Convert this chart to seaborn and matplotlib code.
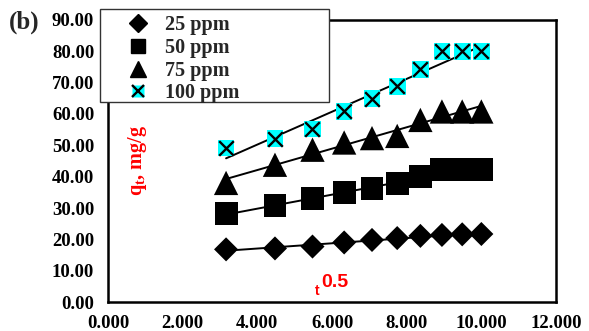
import numpy as np
import pandas as pd
import seaborn as sns
import matplotlib
matplotlib.use("Agg")
import matplotlib.pyplot as plt
from matplotlib.patches import Rectangle
from matplotlib.lines import Line2D

# square root of contact time (min^0.5)
t_sqrt = [3.162, 4.472, 5.477, 6.325, 7.071, 7.746, 8.367, 8.944, 9.487, 10.000]

# adsorbed amount q_t (mg/g) for each initial concentration
q_25 = [16.8, 17.1, 17.7, 19.0, 19.8, 20.4, 21.1, 21.4, 21.6, 21.7]
q_50 = [28.1, 30.8, 32.9, 34.9, 36.3, 37.7, 40.0, 42.2, 42.2, 42.2]
q_75 = [38.0, 43.8, 48.6, 50.9, 52.3, 53.0, 58.1, 60.8, 60.8, 60.8]
q_100 = [49.1, 52.1, 55.2, 60.8, 64.9, 68.8, 74.3, 80.0, 80.0, 80.0]

series_labels = ["25 ppm", "50 ppm", "75 ppm", "100 ppm"]
x_ticks = [0, 2, 4, 6, 8, 10, 12]
y_ticks = [0, 10, 20, 30, 40, 50, 60, 70, 80, 90]

sns.set_theme(style="white")
plt.rcParams["font.family"] = ["Liberation Serif", "DejaVu Serif"]
plt.rcParams["font.weight"] = "bold"

fig = plt.figure(figsize=(5.89, 3.31), dpi=100)
ax = fig.add_axes([0.1834, 0.0876, 0.7606, 0.852])

df = pd.DataFrame({
    "t": t_sqrt * 4,
    "q": q_25 + q_50 + q_75 + q_100,
    "conc": sum([[lab] * len(t_sqrt) for lab in series_labels], []),
})

# linear fits (intraparticle diffusion)
xs = np.array([t_sqrt[0], t_sqrt[-1]])
for lab in series_labels:
    sub = df[df["conc"] == lab]
    k, c = np.polyfit(sub["t"], sub["q"], 1)
    sns.lineplot(x=xs, y=k * xs + c, color="black", lw=1.4, ax=ax, zorder=2)

marker_styles = {
    "25 ppm": dict(marker="D", s=15.5 ** 2 / 2 * 1.25, color="black"),
    "50 ppm": dict(marker="s", s=16.5 ** 2, color="black"),
    "75 ppm": dict(marker="^", s=17.5 ** 2, color="black"),
}
for lab, st in marker_styles.items():
    sub = df[df["conc"] == lab]
    sns.scatterplot(x=sub["t"], y=sub["q"], marker=st["marker"], s=st["s"],
                    color=st["color"], edgecolor="none", ax=ax, zorder=3)

sub = df[df["conc"] == "100 ppm"]
sns.scatterplot(x=sub["t"], y=sub["q"], marker="s", s=12 ** 2,
                color="#00FFFF", edgecolor="none", ax=ax, zorder=3)
sns.scatterplot(x=sub["t"], y=sub["q"], marker="x", s=10.5 ** 2,
                color="black", linewidth=1.7, ax=ax, zorder=4)

ax.set_xlim(0, 12)
ax.set_ylim(0, 90)
ax.set_xticks(x_ticks)
ax.set_yticks(y_ticks)
ax.set_xticklabels([f"{v:.3f}" for v in x_ticks])
ax.set_yticklabels([f"{v:.2f}" for v in y_ticks])
ax.set_xlabel("")
ax.set_ylabel("")
ax.tick_params(axis="both", which="both", direction="out", length=4, width=1,
               colors="black", labelsize=13.5, pad=6)
ax.tick_params(axis="x", pad=5)
for lbl in ax.get_xticklabels() + ax.get_yticklabels():
    lbl.set_fontweight("bold")
for sp in ax.spines.values():
    sp.set_visible(True)
    sp.set_color("black")
    sp.set_linewidth(1.8)

# axis titles drawn inside the frame
ax.text(0.066, 0.50, r"q$_\mathregular{t}$, mg/g", transform=ax.transAxes,
        rotation=90, color="red", fontsize=14.5, fontweight="bold",
        ha="center", va="center")
ax.text(0.466, 0.038, "t", transform=ax.transAxes, color="red",
        fontsize=10, fontweight="bold", family="Liberation Sans",
        ha="center", va="center")
ax.text(0.506, 0.070, "0.5", transform=ax.transAxes, color="red",
        fontsize=14, fontweight="bold", family="Liberation Sans",
        ha="center", va="center")

fig.text(9 / 589, 1 - 22 / 331, "(b)", fontsize=18, fontweight="bold",
         ha="left", va="center")

# legend box covering the upper-left corner of the frame
box = Rectangle((100 / 589, 1 - 102 / 331), 229 / 589, 93 / 331,
                transform=fig.transFigure, facecolor="white",
                edgecolor="#333333", linewidth=1.0, zorder=1)
fig.patches.append(box)

h25 = Line2D([], [], marker="D", color="black", ls="none", ms=9)
h50 = Line2D([], [], marker="s", color="black", ls="none", ms=10.5)
h75 = Line2D([], [], marker="^", color="black", ls="none", ms=11)
h100a = Line2D([], [], marker="s", color="#00FFFF", mec="none", ls="none", ms=9)
h100b = Line2D([], [], marker="x", color="black", ls="none", ms=8, mew=1.7)
fig.legend([h25, h50, h75, (h100a, h100b)], series_labels,
           loc="upper left", bbox_to_anchor=(126 / 589, 1 - 13 / 331),
           frameon=False, prop=dict(family="Liberation Serif", weight="bold", size=14.5),
           handlelength=1.0, handletextpad=0.85, labelspacing=0.14,
           borderaxespad=0, borderpad=0.1)

fig.savefig("out.png", dpi=100)
